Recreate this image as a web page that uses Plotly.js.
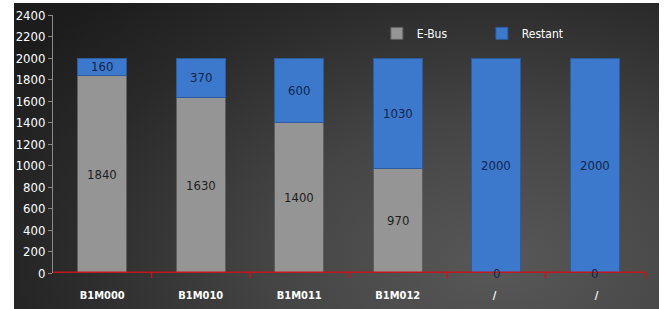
<!DOCTYPE html>
<html>
<head>
<meta charset="utf-8">
<script src="https://cdn.plot.ly/plotly-3.0.1.min.js"></script>
<style>
  html, body { margin: 0; padding: 0; background: #ffffff; }
  #frame { position: absolute; left: 14px; top: 3px; width: 645px; height: 306px;
    background: radial-gradient(ellipse 90% 120% at 75% 85%, #585858 0%, #444444 40%, #2a2a2a 75%, #1c1c1c 100%); }
  #chart { position: absolute; left: 0; top: 0; width: 667px; height: 309px; }
</style>
</head>
<body>
<div id="frame"></div>
<div id="chart"></div>
<script>
const categories = ['B1M000', 'B1M010', 'B1M011', 'B1M012', '/ ', ' /'];
const ebus = [1840, 1630, 1400, 970, 0, 0];
const restant = [160, 370, 600, 1030, 2000, 2000];
const yTicks = [0, 200, 400, 600, 800, 1000, 1200, 1400, 1600, 1800, 2000, 2200, 2400];

const numFont = 'DejaVu Sans Condensed, DejaVu Sans, sans-serif';

const traces = [
  {
    type: 'bar', name: 'E-Bus', x: categories, y: ebus,
    marker: { color: '#959595', line: { color: '#5e5e5e', width: 1 } },
    hoverinfo: 'skip'
  },
  {
    type: 'bar', name: 'Restant', x: categories, y: restant,
    marker: { color: '#3c79cc', line: { color: '#2c5c9e', width: 1 } },
    hoverinfo: 'skip'
  }
];

const ebusLabels = categories.map((c, i) => ({
  xref: 'x', yref: 'y', x: c, y: ebus[i] / 2, text: String(ebus[i]),
  showarrow: false, xanchor: 'center', yanchor: 'middle',
  font: { family: numFont, size: 13, stretch: 'condensed', color: ebus[i] === 0 ? '#10244a' : '#1e1e1e' }
}));
const restantLabels = categories.map((c, i) => ({
  xref: 'x', yref: 'y', x: c, y: ebus[i] + restant[i] / 2, text: String(restant[i]),
  showarrow: false, xanchor: 'center', yanchor: 'middle',
  font: { family: numFont, size: 13, stretch: 'condensed', color: '#10244a' }
}));

const layout = {
  width: 667, height: 309,
  margin: { l: 53, r: 23, t: 15, b: 36, autoexpand: false },
  paper_bgcolor: 'rgba(0,0,0,0)', plot_bgcolor: 'rgba(0,0,0,0)',
  barmode: 'stack', bargap: 0.5,
  showlegend: true,
  legend: {
    orientation: 'h', traceorder: 'normal',
    x: 0.548, y: 0.985, xanchor: 'left', yanchor: 'top',
    font: { family: numFont, size: 12, stretch: 'condensed', color: '#ffffff' },
    bgcolor: 'rgba(0,0,0,0)', entrywidth: 60, entrywidthmode: 'pixels',
    itemwidth: 30
  },
  xaxis: {
    type: 'category', range: [-0.5, 5.5],
    showgrid: false, zeroline: false,
    showline: false,
    ticks: '', ticklabelstandoff: 14,
    tickfont: { family: numFont, size: 11, stretch: 'condensed', color: '#ffffff', weight: 'bold' },
    fixedrange: true
  },
  yaxis: {
    range: [0, 2400], tickvals: yTicks, ticktext: yTicks.map(String),
    showgrid: false, zeroline: false,
    showline: true, linecolor: '#8a8a8a', linewidth: 1,
    ticks: 'outside', ticklen: 4, tickcolor: '#8a8a8a',
    tickfont: { family: numFont, size: 13, stretch: 'condensed', color: '#ffffff' },
    fixedrange: true
  },
  annotations: ebusLabels.concat(restantLabels),
  shapes: [
    { type: 'line', xref: 'paper', yref: 'y', x0: 0, x1: 1.003, y0: 0, y1: 0,
      line: { color: '#c4161c', width: 3 } }
  ].concat(categories.slice(1).map((c, i) => ({
    type: 'line', xref: 'x', yref: 'paper', x0: i + 0.5, x1: i + 0.5, y0: 0, y1: -0.02,
    line: { color: '#c4161c', width: 1.5 }
  }))).concat([
    { type: 'line', xref: 'paper', yref: 'paper', x0: 1.003, x1: 1.003, y0: 0, y1: -0.02,
      line: { color: '#c4161c', width: 1.5 } }
  ])
};

Plotly.newPlot('chart', traces, layout, { displayModeBar: false, staticPlot: true });
</script>
</body>
</html>
